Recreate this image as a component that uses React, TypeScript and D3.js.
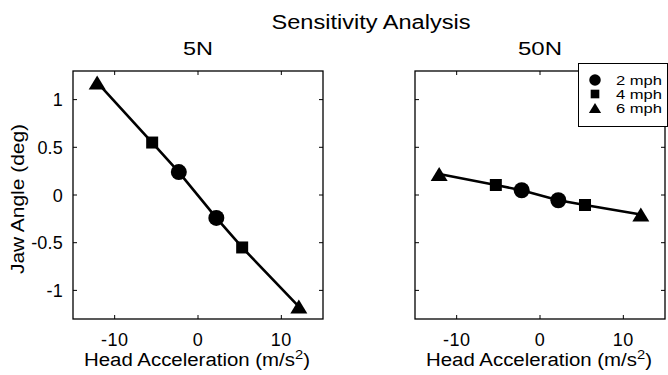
import React from "react";
import * as d3 from "d3";

const W = 668;
const H = 375;

const xDomain: [number, number] = [-15, 15];
const yDomain: [number, number] = [-1.3, 1.3];
const xTicks = [-10, 0, 10];
const yTicks = [-1, -0.5, 0, 0.5, 1];

const speeds = ["2 mph", "4 mph", "6 mph"];
const speedMarker = ["circle", "square", "triangle"];

const pointMarkers = ["triangle", "square", "circle", "circle", "square", "triangle"];
const accel5N = [-12.1, -5.5, -2.3, 2.2, 5.3, 12.1];
const jaw5N = [1.18, 0.55, 0.24, -0.24, -0.55, -1.17];
const accel50N = [-12.1, -5.3, -2.2, 2.2, 5.4, 12.1];
const jaw50N = [0.22, 0.105, 0.05, -0.055, -0.105, -0.205];

const panels = [
  { title: "5N", x0: 73, x1: 323, accel: accel5N, jaw: jaw5N, yLabels: true },
  { title: "50N", x0: 415, x1: 665, accel: accel50N, jaw: jaw50N, yLabels: false },
];
const top = 71;
const bottom = 319;
const FONT = "'Liberation Sans', Arial, Helvetica, sans-serif";

function markerPath(kind: string, scale: number): string {
  if (kind === "circle") return d3.symbol(d3.symbolCircle, Math.PI * (8 * scale) ** 2)()!;
  if (kind === "square") return d3.symbol(d3.symbolSquare, (12 * scale) ** 2)()!;
  const w = 17 * scale;
  const h = 14 * scale;
  return `M0,${-h / 2}L${w / 2},${h / 2}L${-w / 2},${h / 2}Z`;
}

function Panel({ p }: { p: (typeof panels)[number] }) {
  const x = d3.scaleLinear().domain(xDomain).range([p.x0, p.x1]);
  const y = d3.scaleLinear().domain(yDomain).range([bottom, top]);
  const pts = p.accel.map((a, i) => [a, p.jaw[i]] as [number, number]);
  const line = d3
    .line<[number, number]>()
    .x((d) => x(d[0]))
    .y((d) => y(d[1]));
  const tl = 4;
  return (
    <g>
      <text
        x={(p.x0 + p.x1) / 2}
        y={55}
        textAnchor="middle"
        fontSize={18}
        fontFamily={FONT}
        textLength={p.title.length === 2 ? 30 : 44}
        lengthAdjust="spacingAndGlyphs"
      >
        {p.title}
      </text>
      <rect x={p.x0} y={top} width={p.x1 - p.x0} height={bottom - top} fill="white" stroke="black" strokeWidth={1.3} />
      {xTicks.map((t) => (
        <g key={"x" + t}>
          <line x1={x(t)} x2={x(t)} y1={bottom} y2={bottom - tl} stroke="black" />
          <line x1={x(t)} x2={x(t)} y1={top} y2={top + tl} stroke="black" />
          <text x={x(t)} y={346} textAnchor="middle" fontSize={18} fontFamily={FONT} letterSpacing={0.5}>
            {t}
          </text>
        </g>
      ))}
      {yTicks.map((t) => (
        <g key={"y" + t}>
          <line x1={p.x0} x2={p.x0 + tl} y1={y(t)} y2={y(t)} stroke="black" />
          <line x1={p.x1} x2={p.x1 - tl} y1={y(t)} y2={y(t)} stroke="black" />
          {p.yLabels && (
            <text x={p.x0 - 10} y={y(t) + 6.5} textAnchor="end" fontSize={18} fontFamily={FONT} letterSpacing={0.2}>
              {t}
            </text>
          )}
        </g>
      ))}
      <path d={line(pts)!} fill="none" stroke="black" strokeWidth={2.6} />
      {pts.map((d, i) => (
        <path key={i} d={markerPath(pointMarkers[i], 1)} transform={`translate(${x(d[0])},${y(d[1])})`} fill="black" />
      ))}
      <text
        x={(p.x0 + p.x1) / 2 - 1}
        y={366}
        textAnchor="middle"
        fontSize={18}
        fontFamily={FONT}
        textLength={226}
        lengthAdjust="spacingAndGlyphs"
      >
        Head Acceleration (m/s<tspan dy={-7} fontSize={13}>2</tspan>
        <tspan dy={7}>)</tspan>
      </text>
    </g>
  );
}

export default function App() {
  const lx = 578;
  const ly = 63;
  return (
    <svg width={W} height={H} style={{ position: "absolute", left: 0, top: 0, background: "white" }}>
      <rect width={W} height={H} fill="white" />
      <text x={371} y={29} textAnchor="middle" fontSize={19.5} fontFamily={FONT} textLength={199} lengthAdjust="spacingAndGlyphs">
        Sensitivity Analysis
      </text>
      {panels.map((p) => (
        <Panel key={p.title} p={p} />
      ))}
      <text
        transform={`translate(24,199) rotate(-90)`}
        textAnchor="middle"
        fontSize={18}
        fontFamily={FONT}
        textLength={150}
        lengthAdjust="spacingAndGlyphs"
      >
        Jaw Angle (deg)
      </text>
      <g>
        <rect x={lx + 0.5} y={ly + 0.5} width={89} height={63} fill="white" stroke="black" strokeWidth={1} />
        {speeds.map((s, i) => (
          <g key={s} transform={`translate(0,${ly + 17 + i * 14})`}>
            <path d={markerPath(speedMarker[i], 0.72)} transform={`translate(${lx + 17},0)`} fill="black" />
            <text x={lx + 38} y={4.5} fontSize={13} fontFamily={FONT} textLength={46} lengthAdjust="spacingAndGlyphs">
              {s}
            </text>
          </g>
        ))}
      </g>
    </svg>
  );
}
